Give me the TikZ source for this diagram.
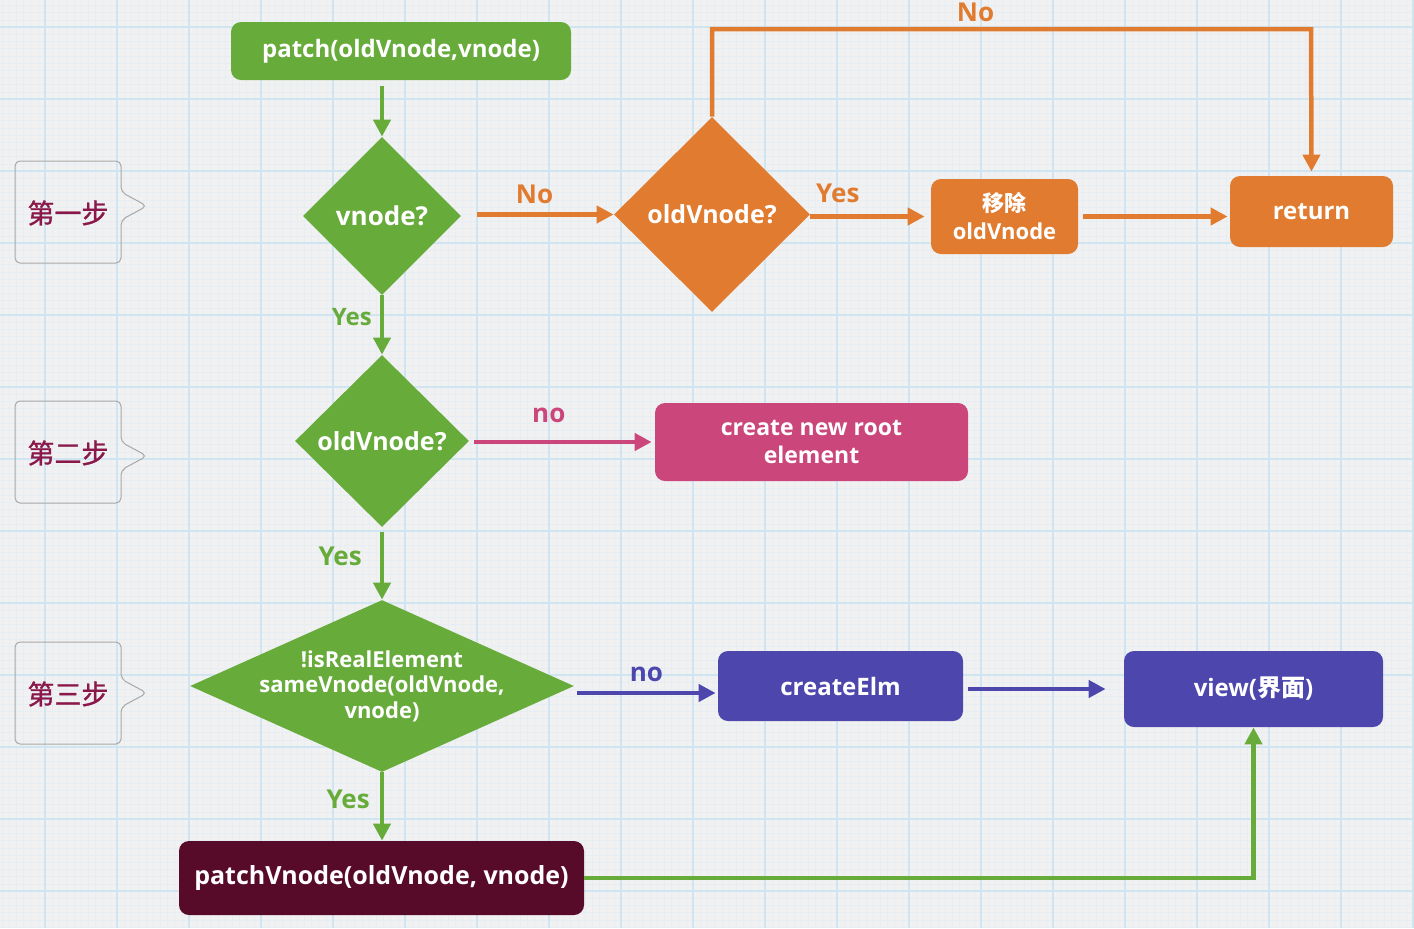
\documentclass[tikz,border=0pt]{standalone}
\usepackage{fontspec}
\setmainfont{Open Sans}
\newfontfamily\cjk{Noto Sans CJK SC}
\newfontfamily\cjkstep{Noto Sans CJK SC}[FakeBold=1.2]
\usetikzlibrary{positioning,arrows.meta,shapes.geometric,calc}

\definecolor{paper}{RGB}{241,241,241}
\definecolor{gridminor}{RGB}{230,238,243}
\definecolor{gridmajor}{RGB}{208,229,242}
\definecolor{vgreen}{RGB}{103,171,59}
\definecolor{vorange}{RGB}{224,123,47}
\definecolor{vpink}{RGB}{202,70,123}
\definecolor{vpurple}{RGB}{77,71,173}
\definecolor{vmaroon}{RGB}{87,11,41}
\definecolor{steptxt}{RGB}{139,24,74}
\definecolor{stepline}{RGB}{168,168,168}

\tikzset{
  flow/.style={line width=2.25pt, -{Triangle[length=8.5pt,width=8.5pt]}},
  box/.style={rectangle, rounded corners=5pt, inner sep=0pt, text=white, align=center,
    font=\bfseries\fontsize{12}{14}\selectfont},
  dia/.style={diamond, inner sep=0pt, text=white, align=center,
    font=\bfseries\fontsize{12.5}{14}\selectfont},
  lbl/.style={inner sep=1pt, font=\bfseries\fontsize{13}{15}\selectfont},
  callout/.style={draw=stepline, line width=0.5pt, rounded corners=2.5pt},
  steptext/.style={text=steptxt, font=\cjkstep\fontsize{13.5}{15}\selectfont}
}

\begin{document}
\begin{tikzpicture}[x=0.5pt,y=-0.5pt]
\useasboundingbox (0,0) rectangle (1414,928);
\fill[paper] (0,0) rectangle (1414,928);
% grid paper
\foreach \gx in {1.8,9,...,1414} \draw[gridminor, line width=0.3pt] (\gx,0) -- (\gx,928);
\foreach \gy in {5.4,12.6,...,928} \draw[gridminor, line width=0.3pt] (0,\gy) -- (1414,\gy);
\foreach \gx in {45,117,...,1414} \draw[gridmajor, line width=0.6pt] (\gx,0) -- (\gx,928);
\foreach \gy in {27,99,...,928} \draw[gridmajor, line width=0.6pt] (0,\gy) -- (1414,\gy);

% step callouts
\foreach \by/\ty/\txt [count=\i] in {212/206/第一步, 452/456/第二步, 693/693/第三步} {
  \draw[callout] (15,\by-51) -- (121,\by-51) -- (121,\ty-14) -- (147,\ty)
     -- (121,\ty+14) -- (121,\by+51) -- (15,\by+51) -- cycle;
  \node[steptext] (step\i) at (68,\by+1) {\txt};
}

% green column
\node[box, fill=vgreen, minimum width=170pt, minimum height=29pt] (patch) at (401,51) {patch(oldVnode,vnode)};
\node[dia, fill=vgreen, minimum width=79pt, minimum height=79pt,
      font=\bfseries\fontsize{13}{15}\selectfont] (chk1) at (382,216) {vnode?};
\node[dia, fill=vgreen, minimum width=87pt, minimum height=86pt] (chk2) at (382,441) {oldVnode?};
\node[dia, fill=vgreen, minimum width=192pt, minimum height=86pt,
      label={[text=white, align=center, font=\bfseries\fontsize{11}{12.75}\selectfont]center:{!isRealElement\\sameVnode(oldVnode,\\vnode)}}] (chk3) at (382,686) {};
\node[box, fill=vmaroon, minimum width=202.5pt, minimum height=37pt,
      font=\bfseries\fontsize{12.5}{14}\selectfont] (patchv) at (381.5,878) {patchVnode(oldVnode, vnode)};

% orange branch
\node[dia, fill=vorange, minimum width=98pt, minimum height=97.5pt] (chk4) at (712,214.5) {oldVnode?};
\node[box, fill=vorange, minimum width=73.5pt, minimum height=37.5pt,
      font=\bfseries\fontsize{11}{14}\selectfont] (remove) at (1004.5,216.5) {{\cjk 移除}\\oldVnode};
\node[box, fill=vorange, minimum width=81.5pt, minimum height=35.5pt] (ret) at (1311.5,211.5) {return};

% pink and purple boxes
\node[box, fill=vpink, minimum width=156.5pt, minimum height=39pt,
      font=\bfseries\fontsize{11.5}{14}\selectfont] (root) at (811.5,442) {create new root\\element};
\node[box, fill=vpurple, minimum width=122.5pt, minimum height=35pt] (mkelm) at (840.5,686) {createElm};
\node[box, fill=vpurple, minimum width=129.5pt, minimum height=38pt] (view) at (1253.5,689) {view({\cjk 界面})};

% connectors
\draw[flow, vgreen] ([yshift=-3pt]patch.south -| chk1.north) -- (chk1.north);
\draw[flow, vgreen] (chk1.south) -- node[lbl, left=3pt, pos=0.37, font=\bfseries\fontsize{12}{14}\selectfont]{Yes} (chk2.north);
\draw[flow, vgreen] ([yshift=-2.5pt]chk2.south) -- node[lbl, left=8pt, pos=0.35]{Yes} (chk3.north);
\draw[flow, vgreen] (chk3.south) -- node[lbl, left=4pt, pos=0.4]{Yes} (chk3.south |- patchv.north);
\draw[flow, vgreen] (patchv.east) -| (view.south);

\draw[flow, vorange] ([xshift=8pt]chk1.east |- chk4.west) -- node[lbl, above=3.3pt, pos=0.42]{No} (chk4.west);
\draw[flow, vorange] (remove.west -| chk4.east) -- node[lbl, above=4.8pt, pos=0.24]{Yes} ([xshift=-3pt]remove.west);
\draw[flow, vorange] ([xshift=2.5pt]remove.east) -- ([xshift=-1pt]remove.east -| ret.west);
\coordinate (noTop) at (1311,29);
\draw[flow, vorange] (chk4.north) |- node[lbl, above=1.3pt, pos=0.72]{No} (noTop) -- ([yshift=2pt]ret.north);

\draw[flow, vpink] ([xshift=2.5pt]root.west -| chk2.east) -- node[lbl, above=7.5pt, pos=0.42]{no} ([xshift=-1.5pt]root.west);

\draw[flow, vpurple] ([shift={(3,7)}]chk3.east) -- node[lbl, above=3.5pt, pos=0.5]{no} ([shift={(-2,7)}]mkelm.west);
\draw[flow, vpurple] ([xshift=2.5pt]mkelm.east |- view.west) -- ([xshift=-9pt]view.west);
\end{tikzpicture}
\end{document}
